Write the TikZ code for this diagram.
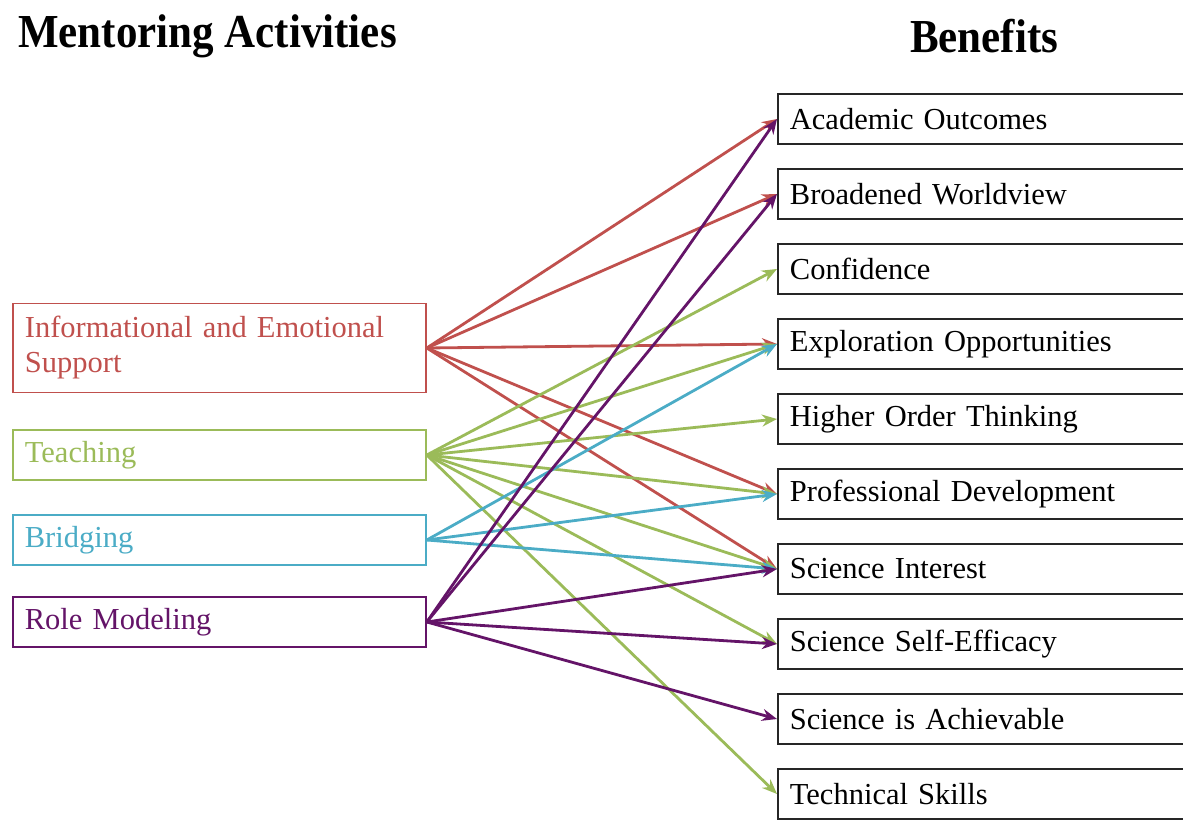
\documentclass[tikz,border=0pt]{standalone}
\usepackage{fontspec}
\setmainfont{Liberation Serif}
\usetikzlibrary{arrows.meta}

\definecolor{infored}{RGB}{192,80,77}
\definecolor{teachgreen}{RGB}{155,187,89}
\definecolor{bridgeblue}{RGB}{75,172,198}
\definecolor{rolepurple}{RGB}{100,20,104}

\begin{document}
\begin{tikzpicture}[
      x=1pt, y=-1pt,
      >={Stealth[length=15pt,width=12pt]},
      heading/.style={
        anchor=west,
        font=\fontsize{43}{45}\selectfont\bfseries,
        inner sep=0pt,
        yscale=1.1
      },
      activity/.style={
        draw,
        line width=1.8pt,
        anchor=west,
        text width=389pt,
        inner xsep=12pt,
        minimum height=50pt,
        align=left,
        font=\fontsize{30.5}{35}\selectfont
      },
      benefit/.style={
        activity,
        draw=black!85,
        text=black
      },
      link/.style={
        ->,
        line width=2.8pt
      },
    ]

    \useasboundingbox (0,0) rectangle (1183,821);

    \node[heading] (acts) at (18,36) {Mentoring Activities};
    \node[heading] (bens) at (910,36) {Benefits};

    \node [activity, draw=infored, text=infored, minimum height=89pt] (info) at (12,348)
      {Informational and Emotional\\Support};
    \node [activity, draw=teachgreen, text=teachgreen] (teach) at (12,455) {Teaching};
    \node [activity, draw=bridgeblue, text=bridgeblue] (bridge) at (12,540) {Bridging};
    \node [activity, draw=rolepurple, text=rolepurple] (role) at (12,622) {Role Modeling};

    \node [benefit] (acad) at (777,119) {Academic Outcomes};
    \node [benefit] (world) at (777,194) {Broadened Worldview};
    \node [benefit] (conf) at (777,269) {Confidence};
    \node [benefit] (explore) at (777,344) {Exploration Opportunities};
    \node [benefit] (higher) at (777,419) {Higher Order Thinking};
    \node [benefit] (profdev) at (777,494) {Professional Development};
    \node [benefit] (interest) at (777,569) {Science Interest};
    \node [benefit] (efficacy) at (777,644) {Science Self-Efficacy};
    \node [benefit] (achieve) at (777,719) {Science is Achievable};
    \node [benefit] (techskill) at (777,794) {Technical Skills};

    \draw [link, infored] (info.east) -- (acad.west);
    \draw [link, infored] (info.east) -- (world.west);
    \draw [link, infored] (info.east) -- (explore.west);
    \draw [link, infored] (info.east) -- (profdev.west);
    \draw [link, infored] (info.east) -- (interest.west);

    \draw [link, teachgreen] (teach.east) -- (conf.west);
    \draw [link, teachgreen] (teach.east) -- (explore.west);
    \draw [link, teachgreen] (teach.east) -- (higher.west);
    \draw [link, teachgreen] (teach.east) -- (profdev.west);
    \draw [link, teachgreen] (teach.east) -- (interest.west);
    \draw [link, teachgreen] (teach.east) -- (efficacy.west);
    \draw [link, teachgreen] (teach.east) -- (techskill.west);

    \draw [link, bridgeblue] (bridge.east) -- (explore.west);
    \draw [link, bridgeblue] (bridge.east) -- (profdev.west);
    \draw [link, bridgeblue] (bridge.east) -- (interest.west);

    \draw [link, rolepurple] (role.east) -- (acad.west);
    \draw [link, rolepurple] (role.east) -- (world.west);
    \draw [link, rolepurple] (role.east) -- (interest.west);
    \draw [link, rolepurple] (role.east) -- (efficacy.west);
    \draw [link, rolepurple] (role.east) -- (achieve.west);
  \end{tikzpicture}
\end{document}
